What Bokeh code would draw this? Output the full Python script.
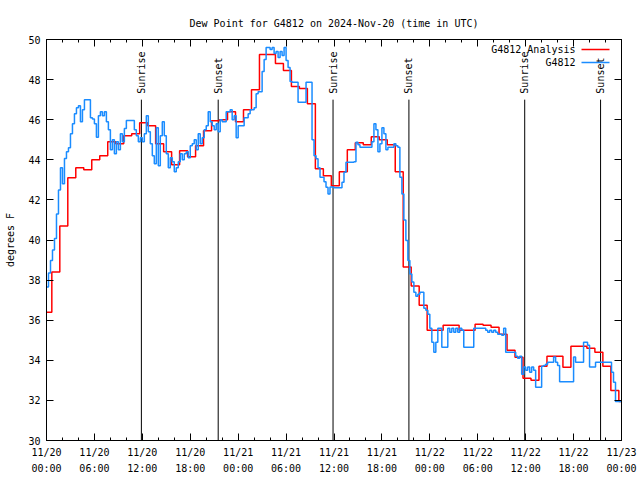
import numpy as np
from bokeh.plotting import figure
from bokeh.models import LinearAxis, FixedTicker, Label, BoxAnnotation, Range1d, ColumnDataSource
from bokeh.core.properties import value
from bokeh.embed import file_html
from bokeh.resources import INLINE

FONT = "DejaVu Sans Mono"

title_text = "Dew Point for G4812 on 2024-Nov-20 (time in UTC)"
y_axis_label = "degrees F"

x_tick_hours = [0, 6, 12, 18, 24, 30, 36, 42, 48, 54, 60, 66, 72]
x_tick_labels = ["11/20\n00:00", "11/20\n06:00", "11/20\n12:00", "11/20\n18:00",
                 "11/21\n00:00", "11/21\n06:00", "11/21\n12:00", "11/21\n18:00",
                 "11/22\n00:00", "11/22\n06:00", "11/22\n12:00", "11/22\n18:00",
                 "11/23\n00:00"]
x_minor_hours = list(range(0, 73, 2))
y_ticks = [30, 32, 34, 36, 38, 40, 42, 44, 46, 48, 50]

# sunrise / sunset (hours since 11/20 00:00 UTC)
sun_events = ["Sunrise", "Sunset", "Sunrise", "Sunset", "Sunrise", "Sunset"]
sun_hours = [11.88, 21.5, 35.88, 45.38, 59.88, 69.38]
sun_line_top = 47.0

# hourly analysis (step starts 20 min before the hour)
analysis_name = "G4812 Analysis"
analysis_hours = list(range(73))
analysis_values = [
    36.4, 38.4, 40.7, 43.1, 43.6, 43.5, 44.0, 44.2, 44.9, 44.8,
    45.2, 45.3, 45.85, 45.7, 44.8, 44.4, 43.75, 44.45, 44.15, 44.7,
    45.45, 45.95, 46.0, 46.4, 45.9, 46.5, 47.5, 49.25, 49.25, 48.8,
    48.45, 47.65, 47.55, 46.8, 43.55, 43.2, 42.7, 43.4, 44.5, 44.85,
    44.75, 45.15, 45.0, 44.75, 43.4, 38.65, 37.7, 36.75, 35.5, 35.5,
    35.75, 35.75, 35.5, 35.5, 35.8, 35.75, 35.65, 35.3, 34.5, 34.15,
    33.1, 33.0, 33.7, 34.2, 34.2, 33.65, 34.7, 34.7, 34.6, 34.4,
    33.7, 32.5, 31.95]

# observations every 15 minutes from 0 h to 72 h
obs_name = "G4812"
obs_interval_h = 0.25
obs_values = [
    37.65, 38.35, 38.98, 39.5, 40.07, 41.3, 42.5, 43.6, 42.8, 44.06, 44.4, 44.6,
    45.3, 45.8, 46.3, 46.6, 46.7, 45.9, 46.5, 47.0, 47.0, 47.0, 46.1, 46.04,
    45.8, 45.13, 46.2, 46.4, 46.2, 46.4, 45.9, 45.5, 44.5, 45.0, 44.3, 44.9,
    44.5, 45.3, 44.9, 45.56, 45.96, 45.96, 45.96, 45.96, 45.5, 45.2, 44.9, 45.1,
    44.9, 45.3, 46.2, 45.4, 44.8, 44.2, 43.8, 45.6, 43.7, 45.2, 45.9, 45.2,
    44.3, 43.6, 44.1, 43.9, 43.4, 43.6, 43.9, 44.3, 44.0, 44.3, 44.4, 44.1,
    44.7, 44.8, 45.0, 44.5, 45.3, 44.8, 45.1, 45.5, 45.7, 46.4, 45.9, 45.7,
    45.5, 45.8, 45.4, 46.0, 45.9, 45.9, 46.4, 46.4, 46.5, 46.0, 46.2, 45.1,
    45.7, 45.7, 45.7, 46.1, 46.1, 46.3, 46.5, 46.5, 46.6, 47.3, 47.4, 47.4,
    48.4, 49.0, 49.6, 49.6, 49.5, 49.6, 49.3, 49.4, 49.1, 49.4, 49.2, 49.6,
    48.95, 48.6, 47.9, 47.87, 47.87, 47.87, 46.87, 46.87, 46.87, 46.87, 47.87, 47.87,
    47.87, 45.0, 44.2, 44.05, 43.6, 43.13, 43.13, 42.9, 42.63, 42.3, 42.64, 42.64,
    42.6, 42.6, 42.6, 42.6, 42.88, 43.38, 43.88, 43.88, 43.88, 43.88, 43.9, 44.88,
    44.75, 44.63, 44.63, 44.63, 44.63, 44.63, 44.63, 44.9, 45.8, 45.5, 44.4, 44.8,
    45.6, 45.3, 44.5, 44.63, 44.63, 44.63, 44.8, 44.7, 44.63, 43.13, 42.3, 41.0,
    39.98, 38.98, 38.3, 37.9, 37.4, 37.2, 37.3, 37.4, 37.4, 36.6, 36.5, 36.3,
    35.6, 34.9, 34.4, 34.9, 35.6, 35.6, 34.65, 34.65, 34.65, 35.6, 35.4, 35.6,
    35.4, 35.6, 35.4, 35.6, 35.5, 34.65, 34.65, 34.65, 34.65, 34.65, 35.6, 35.6,
    35.6, 35.6, 35.6, 35.6, 35.5, 35.4, 35.5, 35.4, 35.5, 35.4, 35.3, 35.3,
    35.25, 35.6, 34.4, 34.4, 34.4, 34.4, 34.4, 34.2, 34.1, 34.2, 33.3, 33.66,
    33.5, 33.66, 33.4, 33.66, 33.5, 32.66, 32.66, 32.66, 33.7, 33.74, 33.8, 33.9,
    33.9, 33.9, 34.16, 33.9, 33.74, 32.93, 32.93, 32.93, 32.93, 32.93, 32.93, 32.93,
    34.16, 33.9, 33.9, 33.9, 33.9, 34.9, 34.9, 34.75, 33.66, 33.66, 33.66, 33.9,
    33.9, 33.9, 33.9, 33.9, 33.9, 33.9, 33.9, 33.4, 32.9, 31.95, 31.95, 31.95,
    31.95,
]

RED = "#ff0000"
BLUE = "#1a8cff"

p = figure(width=640, height=480, x_range=Range1d(0, 72), y_range=Range1d(30, 50),
           output_backend="svg", toolbar_location=None,
           min_border_left=46, min_border_right=19, min_border_top=39, min_border_bottom=40)
p.background_fill_color = "white"
p.border_fill_color = "white"
p.outline_line_color = "black"
p.grid.visible = False

p.title.text = title_text
p.title.align = "center"
p.title.text_font = FONT
p.title.text_font_size = "10px"
p.title.text_font_style = "normal"
p.title.text_color = "black"
p.title.standoff = 22

xt = FixedTicker(ticks=x_tick_hours, minor_ticks=x_minor_hours)
yt = FixedTicker(ticks=y_ticks, minor_ticks=[])

def style_axis(ax):
    ax.axis_line_color = "black"
    ax.major_tick_line_color = "black"
    ax.minor_tick_line_color = "black"
    ax.major_tick_in = 7
    ax.major_tick_out = 0
    ax.minor_tick_in = 3
    ax.minor_tick_out = 0
    ax.major_label_text_font = FONT
    ax.major_label_text_font_size = "10px"
    ax.major_label_text_color = "black"

xa = p.xaxis[0]
xa.ticker = xt
xa.major_label_overrides = {h: lab for h, lab in zip(x_tick_hours, x_tick_labels)}
style_axis(xa)
xa.major_label_text_line_height = 1.5
xa.major_label_standoff = 6

ya = p.yaxis[0]
ya.ticker = yt
style_axis(ya)
ya.major_label_standoff = 6
ya.axis_label = y_axis_label
ya.axis_label_text_font = FONT
ya.axis_label_text_font_size = "10px"
ya.axis_label_text_font_style = "normal"
ya.axis_label_text_color = "black"
ya.axis_label_standoff = 9

# mirrored tick marks (no labels) on top and right
top = LinearAxis(ticker=xt, major_label_overrides={h: "" for h in x_tick_hours})
style_axis(top)
p.add_layout(top, "above")
right = LinearAxis(ticker=yt, major_label_overrides={t: "" for t in y_ticks})
style_axis(right)
p.add_layout(right, "right")

# sunrise / sunset markers
sun_src = ColumnDataSource(dict(x=sun_hours, y0=[30] * len(sun_hours),
                                y1=[sun_line_top] * len(sun_hours), label=sun_events))
p.segment(x0="x", y0="y0", x1="x", y1="y1", source=sun_src, line_color="black", line_width=1)
p.text(x="x", y="y1", text="label", source=sun_src, angle=np.pi / 2,
       text_align="left", text_baseline="middle", y_offset=-6,
       text_font=value(FONT), text_font_size="10px", text_color="black")

# analysis (red) step line
a_x = [max(0.0, h - 1.0 / 3.0) for h in analysis_hours] + [72.0]
a_y = analysis_values + [analysis_values[-1]]
p.step(a_x, a_y, mode="after", line_color=RED, line_width=1.5)

# observations (blue) step line
o_x = [i * obs_interval_h for i in range(len(obs_values))]
p.step(o_x, obs_values, mode="after", line_color=BLUE, line_width=1.5)

# legend (text left of sample line, as in reference); screen units are frame-relative
for i, (name, col) in enumerate([(analysis_name, RED), (obs_name, BLUE)]):
    yy = 391 - 13 * i
    p.add_layout(Label(x=529, y=yy, x_units="screen", y_units="screen", text=name,
                       text_align="right", text_baseline="middle",
                       text_font=FONT, text_font_size="10px", text_color="black"))
    p.add_layout(BoxAnnotation(left=535, right=563, bottom=yy - 0.75, top=yy + 0.75,
                               left_units="screen", right_units="screen",
                               bottom_units="screen", top_units="screen",
                               fill_color=col, fill_alpha=1.0, line_color=None))

open("out.html", "w").write(file_html(p, INLINE))
